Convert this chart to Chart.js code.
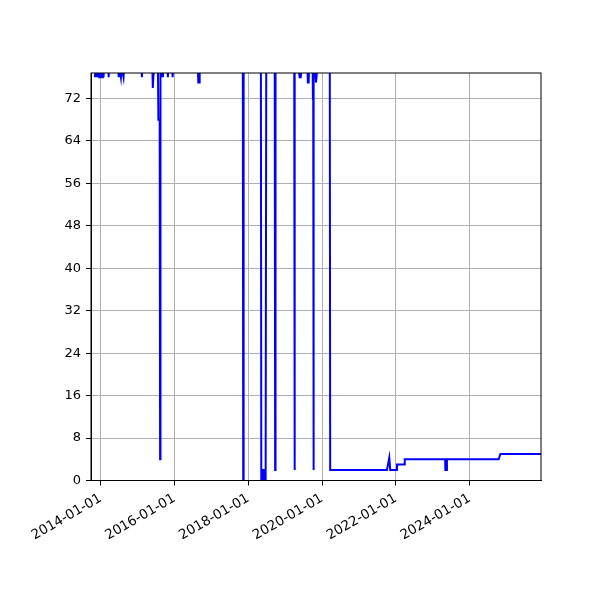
<!DOCTYPE html>
<html>
<head>
<meta charset="utf-8">
<script src="https://cdn.jsdelivr.net/npm/chart.js@4"></script>
<style>
  body { margin: 0; background: #fff; }
  canvas { display: block; }
</style>
</head>
<body>
<canvas id="lineChart" width="600" height="600"></canvas>
<script>
// sample dates and values (values above the top are clipped)
const dates = [
  '2013-11-05', '2013-11-12', '2013-11-18', '2013-11-26', '2013-12-03', '2013-12-10', '2013-12-17',
  '2013-12-24', '2013-12-31', '2014-01-08', '2014-01-15', '2014-01-22', '2014-01-29', '2014-02-03',
  '2014-03-17', '2014-03-21', '2014-03-25',
  '2014-06-24', '2014-06-28', '2014-07-05', '2014-07-20', '2014-07-27', '2014-08-15', '2014-08-22',
  '2015-02-09', '2015-02-13', '2015-02-17',
  '2015-05-27', '2015-06-01', '2015-06-06', '2015-06-12', '2015-06-15',
  '2015-07-22', '2015-07-26', '2015-08-08', '2015-08-12', '2015-08-16',
  '2015-08-28', '2015-09-04', '2015-09-09', '2015-09-14',
  '2015-10-25', '2015-10-28', '2015-11-03',
  '2015-12-08', '2015-12-11', '2015-12-17', '2015-12-20',
  '2016-08-20', '2016-08-24', '2016-09-01', '2016-09-04', '2016-09-10',
  '2017-11-08', '2017-11-12', '2017-11-16',
  '2018-05-06', '2018-05-10', '2018-05-22', '2018-05-24', '2018-06-04', '2018-06-06', '2018-06-22', '2018-06-28',
  '2018-09-20', '2018-09-24', '2018-09-28',
  '2019-04-01', '2019-04-04', '2019-04-07',
  '2019-05-12', '2019-05-24', '2019-06-05', '2019-06-12',
  '2019-08-10', '2019-08-14', '2019-08-22', '2019-08-26',
  '2019-09-30', '2019-10-03', '2019-10-06', '2019-10-08', '2019-10-12',
  '2019-10-20', '2019-10-26', '2019-11-02', '2019-11-08', '2019-11-14',
  '2020-03-18', '2020-03-22',
  '2021-10-05', '2021-10-28', '2021-11-06',
  '2022-01-12', '2022-01-13', '2022-03-29', '2022-03-30',
  '2023-05-04', '2023-05-06', '2023-05-20', '2023-05-22',
  '2024-10-15', '2024-11-01',
  '2025-12-31'
];

const values = [
  76, 78, 76, 78, 76, 78, 76,
  78, 76, 78, 76, 78, 76, 78,
  78, 76, 78,
  78, 76, 78, 76, 78, 76, 78,
  78, 76, 78,
  78, 74, 76, 76, 78,
  78, 68, 68, 4, 78,
  76, 78, 76, 78,
  78, 76, 78,
  78, 76, 76, 78,
  78, 75, 75, 76, 78,
  78, 0, 78,
  78, 0, 0, 2, 2, 0, 0, 78,
  78, 2, 78,
  78, 2, 78,
  78, 76, 76, 78,
  78, 75, 75, 78,
  78, 72, 72, 2, 78,
  76, 78, 75, 76, 78,
  78, 2,
  2, 4.3, 2,
  2, 3, 3, 4,
  4, 2, 2, 4,
  4, 5,
  5
];

const xTickLabels = ['2014-01-01', '2016-01-01', '2018-01-01', '2020-01-01', '2022-01-01', '2024-01-01'];
const yTickValues = [0, 8, 16, 24, 32, 40, 48, 56, 64, 72];

const xMin = Date.parse('2013-09-27');
const xMax = Date.parse('2025-12-08');
const yMax = 76.8;

const points = dates.map((d, i) => ({ x: Date.parse(d), y: values[i] }));

const frame = {
  id: 'frame',
  afterDraw(chart) {
    const { ctx, chartArea: a } = chart;
    ctx.save();
    ctx.strokeStyle = '#000';
    ctx.lineWidth = 1;
    ctx.strokeRect(a.left, a.top, a.right - a.left, a.bottom - a.top);
    ctx.restore();
  }
};

const ctx = document.getElementById('lineChart').getContext('2d');

new Chart(ctx, {
  type: 'line',
  data: {
    datasets: [{
      data: points,
      borderColor: '#0000ff',
      borderWidth: 2,
      pointRadius: 0,
      tension: 0,
      fill: false
    }]
  },
  options: {
    responsive: false,
    devicePixelRatio: 1,
    animation: false,
    layout: { padding: { left: 50, right: 59, top: 73, bottom: 0 } },
    plugins: {
      legend: { display: false },
      tooltip: { enabled: false }
    },
    scales: {
      x: {
        type: 'linear',
        min: xMin,
        max: xMax,
        afterBuildTicks: scale => {
          scale.ticks = xTickLabels.map(t => ({ value: Date.parse(t) }));
        },
        afterFit: scale => { scale.height = 119.5; },
        ticks: {
          autoSkip: false,
          minRotation: 30,
          maxRotation: 30,
          padding: 5,
          color: '#000',
          font: { family: 'DejaVu Sans', size: 13.5 },
          callback: v => new Date(v).toISOString().slice(0, 10)
        },
        grid: { color: '#b0b0b0', lineWidth: 1, tickColor: '#000', tickLength: 5 },
        border: { color: '#000', width: 1 }
      },
      y: {
        min: 0,
        max: yMax,
        afterBuildTicks: scale => {
          scale.ticks = yTickValues.map(v => ({ value: v }));
        },
        afterFit: scale => { scale.width = 41; },
        ticks: {
          padding: 5,
          color: '#000',
          font: { family: 'DejaVu Sans', size: 13 }
        },
        grid: { color: '#b0b0b0', lineWidth: 1, tickColor: '#000', tickLength: 5 },
        border: { color: '#000', width: 1 }
      }
    }
  },
  plugins: [frame]
});
</script>
</body>
</html>
